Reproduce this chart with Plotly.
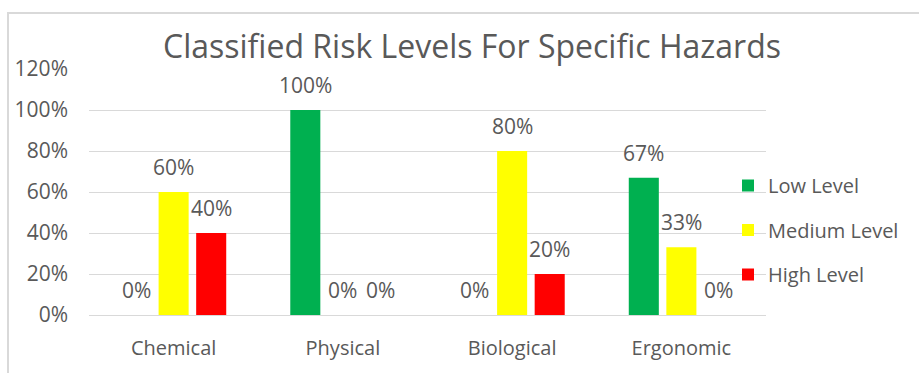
import plotly.graph_objects as go

categories = ["Chemical", "Physical", "Biological", "Ergonomic"]
low_level = [0.0, 1.0, 0.0, 0.67]
medium_level = [0.6, 0.0, 0.8, 0.33]
high_level = [0.4, 0.0, 0.2, 0.0]
series_names = ["Low Level", "Medium Level", "High Level"]
series_colors = ["#00B050", "#FFFF00", "#FF0000"]
tick_values = [0, 0.2, 0.4, 0.6, 0.8, 1.0, 1.2]
tick_labels = ["0%", "20%", "40%", "60%", "80%", "100%", "120%"]

FONT = "Open Sans"
GRAY = "#595959"
SLOT_PX = 37.5  # horizontal offset between bars in a group (style)

fig = go.Figure()
all_series = [low_level, medium_level, high_level]
for name, vals, col in zip(series_names, all_series, series_colors):
    fig.add_trace(go.Bar(
        x=categories, y=vals, name=name, marker_color=col,
        marker_line_width=0, legendgroup=name,
    ))

annotations = []
for i, vals in enumerate(all_series):
    for cat, v in zip(categories, vals):
        annotations.append(dict(
            x=cat, y=v, xref="x", yref="y", text=f"{round(v*100)}%",
            showarrow=False, xanchor="center", yanchor="bottom",
            xshift=(i - 1) * SLOT_PX, yshift=9,
            font=dict(family=FONT, size=21, color=GRAY),
        ))

fig.update_layout(
    width=919, height=373,
    margin=dict(l=89, r=153, t=69, b=58),
    paper_bgcolor="white", plot_bgcolor="white",
    barmode="group", bargap=0.334, bargroupgap=0.2,
    title=dict(text="Classified Risk Levels For Specific Hazards",
               font=dict(family=FONT, size=32, color=GRAY),
               x=472/919, xanchor="center", y=1-47/373, yanchor="middle"),
    font=dict(family=FONT, color=GRAY),
    xaxis=dict(showgrid=False, showline=False, ticks="", ticklabelstandoff=19,
               tickfont=dict(family=FONT, size=20, color=GRAY)),
    yaxis=dict(range=[0, 1.2], tickvals=tick_values, ticktext=tick_labels,
               showgrid=True, gridcolor="#D9D9D9", gridwidth=1,
               zeroline=True, zerolinecolor="#D9D9D9", zerolinewidth=1,
               showline=False, ticks="", ticklabelstandoff=20,
               tickfont=dict(family=FONT, size=21, color=GRAY)),
    legend=dict(x=(728-89)/677, xanchor="left", y=(315-166)/246, yanchor="top",
                font=dict(family=FONT, size=20, color=GRAY),
                tracegroupgap=15.5, bgcolor="rgba(0,0,0,0)"),
    showlegend=True,
    annotations=annotations,
)
fig.add_shape(type="rect", xref="paper", yref="paper",
              x0=-81/677, x1=2.0, y0=-1.0, y1=(315-13)/246,
              line=dict(color="#D9D9D9", width=2), fillcolor="rgba(0,0,0,0)",
              layer="below")

fig.write_html("out.html")
